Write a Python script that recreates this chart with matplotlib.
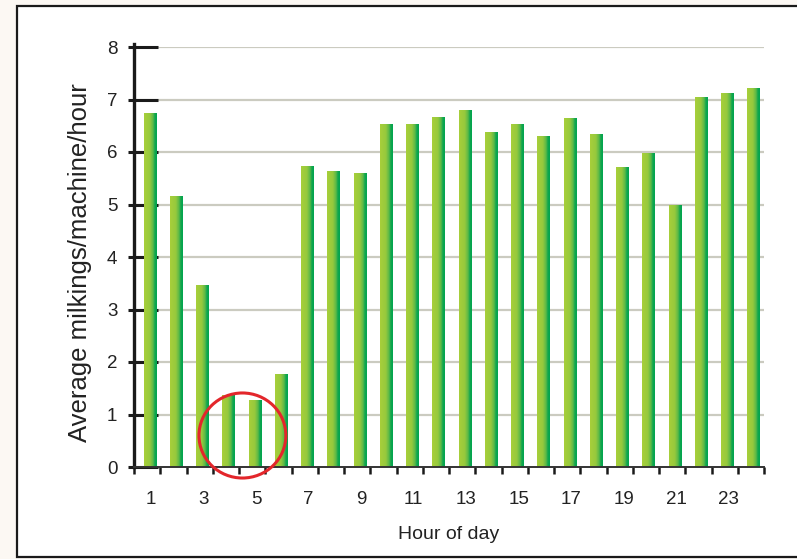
import matplotlib
matplotlib.use("Agg")
import matplotlib.pyplot as plt
import numpy as np
from matplotlib.colors import LinearSegmentedColormap
from matplotlib.patches import Rectangle, Ellipse

plt.rcParams['font.family'] = ['Liberation Sans', 'DejaVu Sans']

hours = list(range(1, 25))
values = [6.75, 5.16, 3.47, 1.37, 1.28, 1.77, 5.73, 5.64, 5.60, 6.53, 6.53, 6.67,
          6.80, 6.38, 6.53, 6.30, 6.65, 6.34, 5.71, 5.98, 4.99, 7.05, 7.12, 7.22]
xtick_labels = [str(h) for h in range(1, 24, 2)]
yticks = list(range(0, 9))

W, H = 797, 559
fig = plt.figure(figsize=(W/100, H/100), dpi=100)
fig.patch.set_facecolor('#fcf8f3')

# white panel with dark border
panel = Rectangle((17/W, 2/H), 1.2, (H-8)/H, transform=fig.transFigure,
                  facecolor='white', edgecolor='#1a1a1a', linewidth=1.6, zorder=-10)
fig.patches.append(panel)

ax = fig.add_axes([134/W, 92/H, 630/W, 420/H])
ax.set_facecolor('none')
ax.set_zorder(1)
ax.set_xlim(0.5, 24.5)
ax.set_ylim(0, 8)

# grid
for yv in yticks[1:]:
    ax.axhline(yv, color='#cbcbc0', linewidth=1.6, zorder=1)

cmap = LinearSegmentedColormap.from_list('g', [(0, '#a8cf3a'), (0.45, '#96c93d'),
                                               (0.7, '#5cb947'), (0.85, '#10a64f'),
                                               (1.0, '#00a54f')])
grad = np.linspace(0, 1, 64).reshape(1, -1)
bw = 0.46
off = 0.1
bars = ax.bar(np.array(hours) + off, values, width=bw, color='none', edgecolor='none', zorder=2)
for b in bars:
    x0 = b.get_x(); x1 = x0 + b.get_width(); h = b.get_height()
    im = ax.imshow(grad, extent=[x0, x1, 0, h], aspect='auto', cmap=cmap,
                   zorder=2, interpolation='bilinear')
    im.set_clip_path(b)
ax.set_xlim(0.5, 24.5)
ax.set_ylim(0, 8)

# spines
for s in ['top', 'right']:
    ax.spines[s].set_visible(False)
ax.spines['left'].set_color('#1a1a1a')
ax.spines['left'].set_linewidth(2.4)
ax.spines['left'].set_bounds(0, 8.06)
ax.spines['bottom'].set_color('#333333')
ax.spines['bottom'].set_linewidth(1.4)
ax.spines['left'].set_zorder(4)
ax.spines['bottom'].set_zorder(4)

# y ticks: inward long + outward short
ax.set_yticks(yticks)
ax.set_yticks(yticks, minor=True)
ax.yaxis.remove_overlapping_locs = False
ax.tick_params(axis='y', which='major', direction='in', length=17.5, width=2.2,
               color='#1a1a1a', labelsize=13.5, pad=12, labelcolor='#222222')
ax.tick_params(axis='y', which='minor', direction='out', length=4.5, width=2.2,
               color='#1a1a1a')

# x ticks: labels at odd hours, tick marks at bin edges
ax.set_xticks(np.arange(1, 24, 2) + 0.15)
ax.set_xticklabels(xtick_labels)
ax.set_xticks(np.arange(0.5, 25, 1), minor=True)
ax.tick_params(axis='x', which='major', length=0, labelsize=13.5, pad=17,
               labelcolor='#222222')
ax.tick_params(axis='x', which='minor', direction='out', length=5, width=1.8,
               color='#1a1a1a')

ax.set_ylabel('Average milkings/machine/hour', fontsize=18.5, color='#222222')
ax.yaxis.set_label_coords(-0.066, 0.487)
ax.set_xlabel('Hour of day', fontsize=14, color='#222222', labelpad=13)

# red highlight circle
ell = Ellipse((4.63, 0.6), 3.31, 1.62, fill=False, edgecolor='#e3262b',
              linewidth=2.2, clip_on=False, zorder=5)
ax.add_patch(ell)

fig.savefig('out.png', dpi=100, facecolor=fig.get_facecolor())
